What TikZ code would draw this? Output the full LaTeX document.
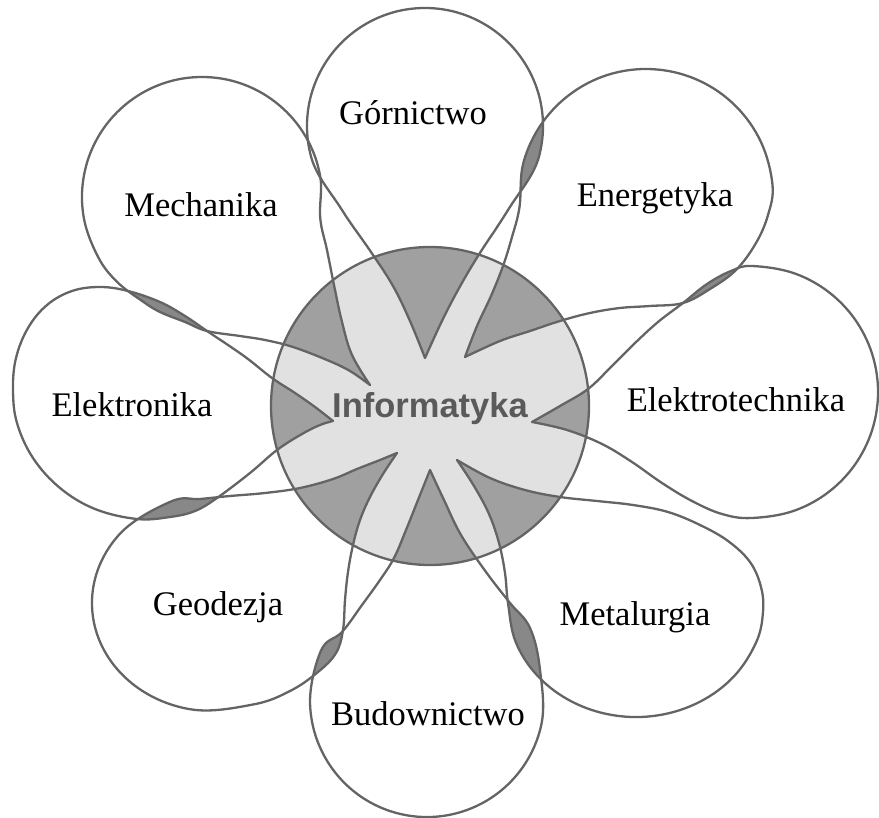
\documentclass[tikz,border=0pt]{standalone}
\usepackage{fontspec}
\setmainfont{Liberation Serif}
\newfontfamily\infofont{Liberation Sans}
\definecolor{lc}{HTML}{646464}
\definecolor{lightfill}{HTML}{E1E1E1}
\definecolor{darkfill}{HTML}{A0A0A0}
\definecolor{lensfill}{HTML}{888888}
\definecolor{infocol}{HTML}{5A5A5A}
\newcommand\pGor{plot[smooth,tension=0.63] coordinates {(425,358) (410,321) (393,286) (371,252) (341.6,209.4) (311,156.5) (311,95.5) (341.6,42.6) (394.5,12) (455.5,12) (508.4,42.6) (539,95.5) (539,156.5) (508.4,209.4) (478,256) (458,290) (441,323) (425,358)}}
\newcommand\pEne{plot[smooth,tension=0.62] coordinates {(465,357) (477,326) (491,296) (503,266) (512,237) (519.5,207.1) (523.3,163.1) (542,123.2) (573.2,92) (613.1,73.3) (657.1,69.5) (699.7,80.9) (735.8,106.2) (761.1,142.3) (772.5,184.9) (768,215) (756,243) (736,270) (710,289) (683,303) (650,306) (620,308) (590,313) (560,321) (530,331) (500,341) (465,357)}}
\newcommand\pEle{plot[smooth,tension=0.62] coordinates {(532,422) (560,406) (588,389) (611,367) (634,344) (658,322) (683,303) (707,284) (731,271) (752,266) (795.1,273.6) (833,295.5) (861.1,329) (876.1,370.1) (876.1,413.9) (861.1,455) (833,488.5) (795.1,510.4) (752,518) (722,514) (692,501) (662,483) (632,462) (602,444) (567,430) (532,422)}}
\newcommand\pMet{plot[smooth,tension=0.62] coordinates {(457,460) (490,478) (525,490) (560,497) (597,501) (633,505) (668,512) (700,525) (728,541) (750,562) (761,587) (763,612) (756.3,642) (734,676.3) (700,701.7) (658.2,715.3) (613.8,715.3) (572,701.7) (538,676.3) (515.7,642) (508,603) (505,573) (499,543) (489,514) (474,486) (457,460)}}
\newcommand\pBud{plot[smooth,tension=0.63] coordinates {(430,470) (444,500) (461,535) (486,572) (510,603) (530,628) (540,669.7) (541.2,725.3) (516.6,775.2) (471.8,808.1) (416.8,816.6) (364.1,798.7) (325.7,758.5) (310.1,705.1) (321,650.6) (342,632) (362,605) (380,580) (394,558) (406,530) (418,500) (430,470)}}
\newcommand\pGeo{plot[smooth,tension=0.63] coordinates {(397,453) (380,460) (357,469) (333,479) (300,488) (265,493) (230,496) (200,499) (171,501.5) (120.1,533.6) (93.8,584.3) (99.2,639.9) (134.9,685.7) (191.2,709.4) (253,704.5) (290,691) (318,672) (336,653) (343,630) (345,600) (348,572) (353,545) (360,520) (370,497) (383,474) (397,453)}}
\newcommand\pElk{plot[smooth,tension=0.62] coordinates {(333,421) (315,407) (295,393) (272,378) (248,359) (228,345) (207,331) (185,316) (160,302) (128,291) (100,287) (72,291) (47,305) (28,328) (16,358) (13,390) (17,423) (33,458) (60,488) (95,509) (137,519) (170,517) (195,511) (217,498) (250,473) (277,450) (302,434) (320,425) (333,421)}}
\newcommand\pMec{plot[smooth,tension=0.62] coordinates {(370,385) (352,355) (342,322) (334,285) (327,250) (320.2,217.8) (320.2,176.2) (305.9,137) (279.1,105.1) (243,84.2) (202,77) (161,84.2) (124.9,105.1) (98.1,137) (83.8,176.2) (83.8,217.8) (98.1,257) (117.1,281.9) (142,300.9) (160,312) (185,322) (207,331) (240,336) (265,340) (293,347) (327,360) (350,371) (370,385)}}
\begin{document}
\begin{tikzpicture}[x=1pt,y=-1pt,
  outline/.style={draw=lc,line width=2.3pt,line join=round},
  lbl/.style={font=\fontsize{34.5}{40}\selectfont,anchor=base,inner sep=0pt,text=black}]
\useasboundingbox (0,0) rectangle (879,818);
\coordinate (ctr) at (430,406);
\fill[lightfill] (ctr) circle[radius=159];
\begin{scope}
  \clip (ctr) circle[radius=159];
  \fill[darkfill] \pGor -- cycle;
  \fill[darkfill] \pEne -- cycle;
  \fill[darkfill] \pEle -- cycle;
  \fill[darkfill] \pMet -- cycle;
  \fill[darkfill] \pBud -- cycle;
  \fill[darkfill] \pGeo -- cycle;
  \fill[darkfill] \pElk -- cycle;
  \fill[darkfill] \pMec -- cycle;
\end{scope}
\begin{scope}\clip \pGor -- cycle; \fill[lensfill] \pEne -- cycle;\end{scope}
\begin{scope}\clip \pEne -- cycle; \fill[lensfill] \pEle -- cycle;\end{scope}
\begin{scope}\clip \pMet -- cycle; \fill[lensfill] \pBud -- cycle;\end{scope}
\begin{scope}\clip \pBud -- cycle; \fill[lensfill] \pGeo -- cycle;\end{scope}
\begin{scope}\clip \pGeo -- cycle; \fill[lensfill] \pElk -- cycle;\end{scope}
\begin{scope}\clip \pElk -- cycle; \fill[lensfill] \pMec -- cycle;\end{scope}
\draw[outline] (ctr) circle[radius=159];
\draw[outline] \pGor -- cycle;
\draw[outline] \pEne -- cycle;
\draw[outline] \pEle -- cycle;
\draw[outline] \pMet -- cycle;
\draw[outline] \pBud -- cycle;
\draw[outline] \pGeo -- cycle;
\draw[outline] \pElk -- cycle;
\draw[outline] \pMec -- cycle;
\node[lbl] (gor) at (413,125) {Górnictwo};
\node[lbl] (ene) at (655,207) {Energetyka};
\node[lbl] (mec) at (201,217) {Mechanika};
\node[lbl] (elk) at (132,417) {Elektronika};
\node[lbl] (ele) at (736,412) {Elektrotechnika};
\node[lbl] (geo) at (218,615) {Geodezja};
\node[lbl] (bud) at (428,725) {Budownictwo};
\node[lbl] (met) at (635,625) {Metalurgia};
\node[anchor=base,inner sep=0pt,text=infocol,font=\infofont\bfseries\fontsize{34.5}{40}\selectfont] (inf) at (430,418) {Informatyka};
\end{tikzpicture}
\end{document}
